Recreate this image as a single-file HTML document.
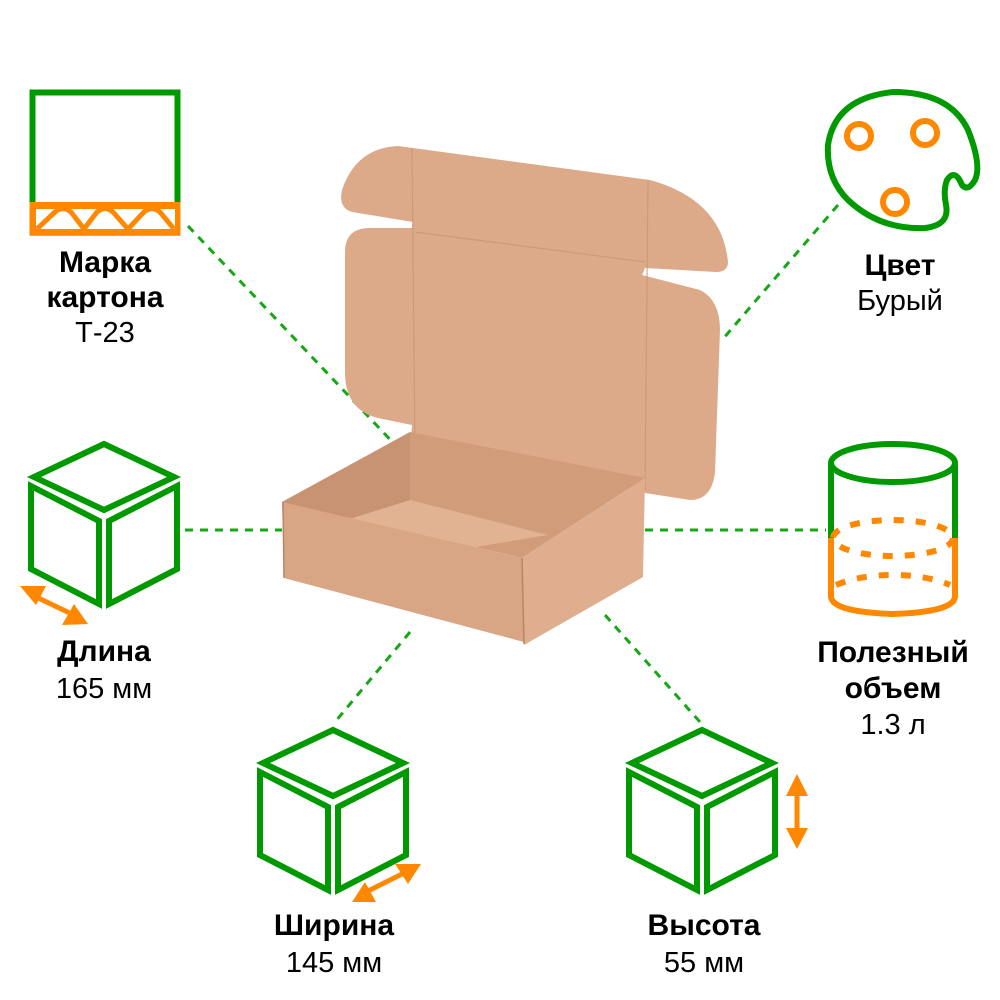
<!DOCTYPE html>
<html><head><meta charset="utf-8"><style>
html,body{margin:0;padding:0;background:#fff;}
svg{display:block}
text{font-family:"Liberation Sans",sans-serif;fill:#000;text-anchor:middle}
.b{font-weight:bold;font-size:30px}
.r{font-size:29px}
</style></head><body>
<svg width="1000" height="1000" viewBox="0 0 1000 1000" xmlns="http://www.w3.org/2000/svg">
<defs>
<g id="cube" fill="none" stroke="#009a00" stroke-width="6" stroke-linejoin="miter">
<polygon points="0,4 70,37 0,70 -70,37"/>
<polygon points="-73,46 -5,81 -5,164 -73,129"/>
<polygon points="73,46 5,81 5,164 73,129"/>
</g>
</defs>
<!-- dashed connectors -->
<g stroke="#14a814" stroke-width="3" stroke-dasharray="8,7" fill="none">
<line x1="188" y1="226" x2="400" y2="450"/>
<line x1="838" y1="205" x2="722" y2="340"/>
<line x1="185" y1="530" x2="282" y2="530"/>
<line x1="645" y1="530" x2="826" y2="530"/>
<line x1="410" y1="632" x2="335" y2="722"/>
<line x1="605" y1="615" x2="700" y2="722"/>
</g>
<!-- box lid -->
<path d="M398,146 L650,180 Q722,200 728,262 Q728,272 716,272 L645,268 L642,275 L700,290 Q720,300 720,330 L715,472 Q712,500 690,500 L645,493 L410,450 L412,425 L378,418 Q345,410 345,372 L345,252 Q345,228 370,228 L412,228 L413,222 L352,212 Q338,208 342,190 Q356,148 398,146 Z" fill="#dcaa89"/>
<g stroke="#c99676" stroke-width="1.2" fill="none" opacity="0.8">
<line x1="412" y1="148" x2="415" y2="450"/>
<line x1="648" y1="182" x2="645" y2="490"/>
<line x1="415" y1="232" x2="645" y2="262"/>
</g>
<!-- box body -->
<polygon points="282,502 410,432 645,478 522,558" fill="#d19c7a"/>
<polygon points="330,525 410,500 548,535 470,548" fill="#e2b392"/>
<polygon points="282,502 410,432 410,500 330,525" fill="#c89372"/>
<polygon points="282,502 522,558 524,642 284,578" fill="#d8a685"/>
<polygon points="522,558 645,478 643,577 524,645" fill="#dfae8f"/>
<line x1="522" y1="558" x2="524" y2="644" stroke="#b88565" stroke-width="1.5"/>
<line x1="283" y1="502" x2="284" y2="578" stroke="#b88565" stroke-width="1.5"/>
<!-- carton icon -->
<rect x="32.5" y="92.5" width="145" height="140" fill="none" stroke="#009a00" stroke-width="6"/>
<rect x="29.5" y="202" width="151" height="33" fill="#ff8800"/>
<rect x="36" y="209" width="139" height="20" fill="#fff"/>
<path d="M37,229 L55,212 Q63,205 71,212 L84,229 L97,212 Q105,205 113,212 L128,229 L144,212 Q152,205 160,212 L174,229" fill="none" stroke="#ff8800" stroke-width="5"/>
<!-- palette -->
<path d="M893,92 Q950,92 968,130 Q982,165 975,180 Q968,192 962,185 Q955,168 947,180 Q943,190 946,205 Q950,225 925,228 Q880,230 848,200 Q826,178 828,145 Q835,98 893,92 Z" fill="none" stroke="#009a00" stroke-width="6"/>
<g fill="none" stroke="#ff8800" stroke-width="6">
<circle cx="859" cy="136" r="12"/>
<circle cx="925" cy="133" r="12"/>
<circle cx="895" cy="202" r="12"/>
</g>
<!-- cylinder -->
<g fill="none" stroke-width="6">
<ellipse cx="893" cy="463" rx="62" ry="19" stroke="#009a00"/>
<path d="M831,463 L831,538 M955,463 L955,538" stroke="#009a00"/>
<path d="M831,538 L831,597 Q833,612 893,614 Q953,612 955,597 L955,538" stroke="#ff8800"/>
<ellipse cx="893" cy="538" rx="60" ry="18" stroke="#ff8800" stroke-dasharray="10,12"/>
<path d="M836,585 Q860,575 893,575 Q926,575 950,585" stroke="#ff8800" stroke-dasharray="10,12"/>
</g>
<!-- cubes -->
<use href="#cube" x="104" y="440"/>
<use href="#cube" x="333" y="726"/>
<use href="#cube" x="702" y="726"/>
<!-- arrows -->
<g fill="#ff8800" stroke="#ff8800">
<line x1="30" y1="594" x2="78" y2="617" stroke-width="5"/>
<polygon points="20,586 46,586 36,605" stroke="none"/>
<polygon points="88,624 62,625 74,604" stroke="none"/>
<line x1="362" y1="894" x2="410" y2="870" stroke-width="5"/>
<polygon points="352,902 365,882 376,902" stroke="none"/>
<polygon points="421,864 395,864 408,884" stroke="none"/>
<line x1="797" y1="785" x2="797" y2="838" stroke-width="5"/>
<polygon points="797,774 786,796 808,796" stroke="none"/>
<polygon points="797,849 786,828 808,828" stroke="none"/>
</g>
<!-- labels -->
<text class="b" x="105" y="272">Марка</text>
<text class="b" x="105" y="307">картона</text>
<text class="r" x="105" y="342">Т-23</text>
<text class="b" x="900" y="275">Цвет</text>
<text class="r" x="900" y="310">Бурый</text>
<text class="b" x="104" y="661">Длина</text>
<text class="r" x="104" y="698">165 мм</text>
<text class="b" x="893" y="662">Полезный</text>
<text class="b" x="893" y="698">объем</text>
<text class="r" x="893" y="734">1.3 л</text>
<text class="b" x="334" y="935">Ширина</text>
<text class="r" x="334" y="972">145 мм</text>
<text class="b" x="704" y="935">Высота</text>
<text class="r" x="704" y="972">55 мм</text>
</svg>
</body></html>
